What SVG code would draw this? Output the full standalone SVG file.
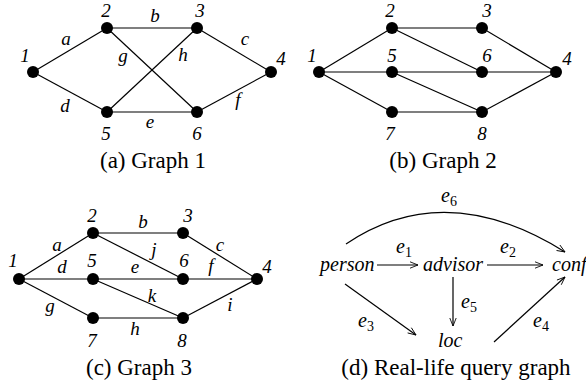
<svg xmlns="http://www.w3.org/2000/svg" width="586" height="385" viewBox="0 0 586 385">
<style>
.e{stroke:#000;stroke-width:1.2;fill:none}
.n{fill:#000}
.l{font-family:"Liberation Serif","Times New Roman",serif;font-style:italic;font-size:19px;text-anchor:middle;fill:#000}
.q{font-family:"Liberation Serif","Times New Roman",serif;font-style:italic;font-size:20px;fill:#000}
.s{font-style:normal;font-size:14px}
.c{font-family:"Liberation Serif","Times New Roman",serif;font-size:23px;text-anchor:middle;fill:#000}
</style>
<defs>
<marker id="ah" viewBox="0 0 10 10" refX="10" refY="5" markerWidth="10" markerHeight="8" markerUnits="userSpaceOnUse" orient="auto">
<path d="M0,1 L10,5 L0,9" fill="none" stroke="#000" stroke-width="1.1"/>
</marker>
</defs>

<!-- Graph 1 -->
<g id="g1-edges">
<line class="e" x1="33" y1="72" x2="107" y2="28"/>
<line class="e" x1="107" y1="28" x2="197" y2="28"/>
<line class="e" x1="197" y1="28" x2="271" y2="72"/>
<line class="e" x1="33" y1="72" x2="107" y2="112"/>
<line class="e" x1="107" y1="112" x2="197" y2="112"/>
<line class="e" x1="197" y1="112" x2="271" y2="72"/>
<line class="e" x1="107" y1="28" x2="197" y2="112"/>
<line class="e" x1="197" y1="28" x2="107" y2="112"/>
</g>
<g id="g1-n1"><circle class="n" cx="33" cy="72" r="6"/><text class="l" x="25" y="62">1</text></g>
<g id="g1-n2"><circle class="n" cx="107" cy="28" r="6"/><text class="l" x="106" y="17">2</text></g>
<g id="g1-n3"><circle class="n" cx="197" cy="28" r="6"/><text class="l" x="200" y="17">3</text></g>
<g id="g1-n4"><circle class="n" cx="271" cy="72" r="6"/><text class="l" x="281" y="65">4</text></g>
<g id="g1-n5"><circle class="n" cx="107" cy="112" r="6"/><text class="l" x="106" y="140">5</text></g>
<g id="g1-n6"><circle class="n" cx="197" cy="112" r="6"/><text class="l" x="197" y="140">6</text></g>
<g id="g1-labels">
<text class="l" x="66" y="45">a</text>
<text class="l" x="155" y="22">b</text>
<text class="l" x="245" y="45">c</text>
<text class="l" x="65" y="112">d</text>
<text class="l" x="150" y="128">e</text>
<text class="l" x="238" y="106">f</text>
<text class="l" x="123" y="62">g</text>
<text class="l" x="183" y="61">h</text>
</g>
<text class="c" x="153" y="168">(a) Graph 1</text>

<!-- Graph 2 -->
<g id="g2-edges">
<line class="e" x1="319" y1="72" x2="392" y2="28"/>
<line class="e" x1="319" y1="72" x2="392" y2="72"/>
<line class="e" x1="319" y1="72" x2="392" y2="112"/>
<line class="e" x1="392" y1="28" x2="482" y2="28"/>
<line class="e" x1="392" y1="28" x2="482" y2="72"/>
<line class="e" x1="482" y1="28" x2="556" y2="72"/>
<line class="e" x1="392" y1="72" x2="482" y2="72"/>
<line class="e" x1="482" y1="72" x2="556" y2="72"/>
<line class="e" x1="392" y1="72" x2="482" y2="112"/>
<line class="e" x1="392" y1="112" x2="482" y2="112"/>
<line class="e" x1="482" y1="112" x2="556" y2="72"/>
</g>
<g id="g2-n1"><circle class="n" cx="319" cy="72" r="6"/><text class="l" x="312" y="62">1</text></g>
<g id="g2-n2"><circle class="n" cx="392" cy="28" r="6"/><text class="l" x="390" y="17">2</text></g>
<g id="g2-n3"><circle class="n" cx="482" cy="28" r="6"/><text class="l" x="487" y="17">3</text></g>
<g id="g2-n4"><circle class="n" cx="556" cy="72" r="6"/><text class="l" x="567" y="65">4</text></g>
<g id="g2-n5"><circle class="n" cx="392" cy="72" r="6"/><text class="l" x="392" y="62">5</text></g>
<g id="g2-n6"><circle class="n" cx="482" cy="72" r="6"/><text class="l" x="487" y="62">6</text></g>
<g id="g2-n7"><circle class="n" cx="392" cy="112" r="6"/><text class="l" x="390" y="140">7</text></g>
<g id="g2-n8"><circle class="n" cx="482" cy="112" r="6"/><text class="l" x="482" y="140">8</text></g>
<text class="c" x="443" y="168">(b) Graph 2</text>

<!-- Graph 3 -->
<g id="g3-edges">
<line class="e" x1="19" y1="279" x2="93" y2="233"/>
<line class="e" x1="93" y1="233" x2="183" y2="233"/>
<line class="e" x1="183" y1="233" x2="257" y2="279"/>
<line class="e" x1="19" y1="279" x2="93" y2="279"/>
<line class="e" x1="93" y1="279" x2="183" y2="279"/>
<line class="e" x1="183" y1="279" x2="257" y2="279"/>
<line class="e" x1="19" y1="279" x2="93" y2="318"/>
<line class="e" x1="93" y1="318" x2="183" y2="318"/>
<line class="e" x1="183" y1="318" x2="257" y2="279"/>
<line class="e" x1="93" y1="233" x2="183" y2="279"/>
<line class="e" x1="93" y1="279" x2="183" y2="318"/>
</g>
<g id="g3-n1"><circle class="n" cx="19" cy="279" r="6"/><text class="l" x="13" y="267">1</text></g>
<g id="g3-n2"><circle class="n" cx="93" cy="233" r="6"/><text class="l" x="92" y="222">2</text></g>
<g id="g3-n3"><circle class="n" cx="183" cy="233" r="6"/><text class="l" x="188" y="222">3</text></g>
<g id="g3-n4"><circle class="n" cx="257" cy="279" r="6"/><text class="l" x="267" y="273">4</text></g>
<g id="g3-n5"><circle class="n" cx="93" cy="279" r="6"/><text class="l" x="92" y="267">5</text></g>
<g id="g3-n6"><circle class="n" cx="183" cy="279" r="6"/><text class="l" x="184" y="267">6</text></g>
<g id="g3-n7"><circle class="n" cx="93" cy="318" r="6"/><text class="l" x="92" y="347">7</text></g>
<g id="g3-n8"><circle class="n" cx="183" cy="318" r="6"/><text class="l" x="182" y="347">8</text></g>
<g id="g3-labels">
<text class="l" x="57" y="251">a</text>
<text class="l" x="143" y="228">b</text>
<text class="l" x="220" y="251">c</text>
<text class="l" x="62" y="273">d</text>
<text class="l" x="135" y="273">e</text>
<text class="l" x="211" y="272">f</text>
<text class="l" x="50" y="312">g</text>
<text class="l" x="135" y="335">h</text>
<text class="l" x="230" y="311">i</text>
<text class="l" x="154" y="256">j</text>
<text class="l" x="152" y="302">k</text>
</g>
<text class="c" x="139" y="375">(c) Graph 3</text>

<!-- Graph 4 -->
<g id="q-person"><text class="q" x="320" y="271">person</text></g>
<g id="q-advisor"><text class="q" x="423" y="271">advisor</text></g>
<g id="q-conf"><text class="q" x="552" y="271">conf</text></g>
<g id="q-loc"><text class="q" x="438" y="347">loc</text></g>
<g id="q-edges">
<line class="e" x1="377" y1="265" x2="418" y2="265" marker-end="url(#ah)"/>
<line class="e" x1="487" y1="265" x2="543" y2="265" marker-end="url(#ah)"/>
<line class="e" x1="453" y1="277" x2="453" y2="326" marker-end="url(#ah)"/>
<line class="e" x1="345" y1="284" x2="416" y2="335" marker-end="url(#ah)"/>
<line class="e" x1="494" y1="342" x2="565" y2="277" marker-end="url(#ah)"/>
<path class="e" d="M346,244 Q445,177 565,252" marker-end="url(#ah)"/>
</g>
<g id="q-labels">
<text class="q" x="441" y="202">e<tspan class="s" dy="4">6</tspan></text>
<text class="q" x="396" y="253">e<tspan class="s" dy="4">1</tspan></text>
<text class="q" x="500" y="253">e<tspan class="s" dy="4">2</tspan></text>
<text class="q" x="358" y="327">e<tspan class="s" dy="4">3</tspan></text>
<text class="q" x="533" y="327">e<tspan class="s" dy="4">4</tspan></text>
<text class="q" x="461" y="308">e<tspan class="s" dy="4">5</tspan></text>
</g>
<text class="c" x="456" y="375">(d) Real-life query graph</text>
</svg>
